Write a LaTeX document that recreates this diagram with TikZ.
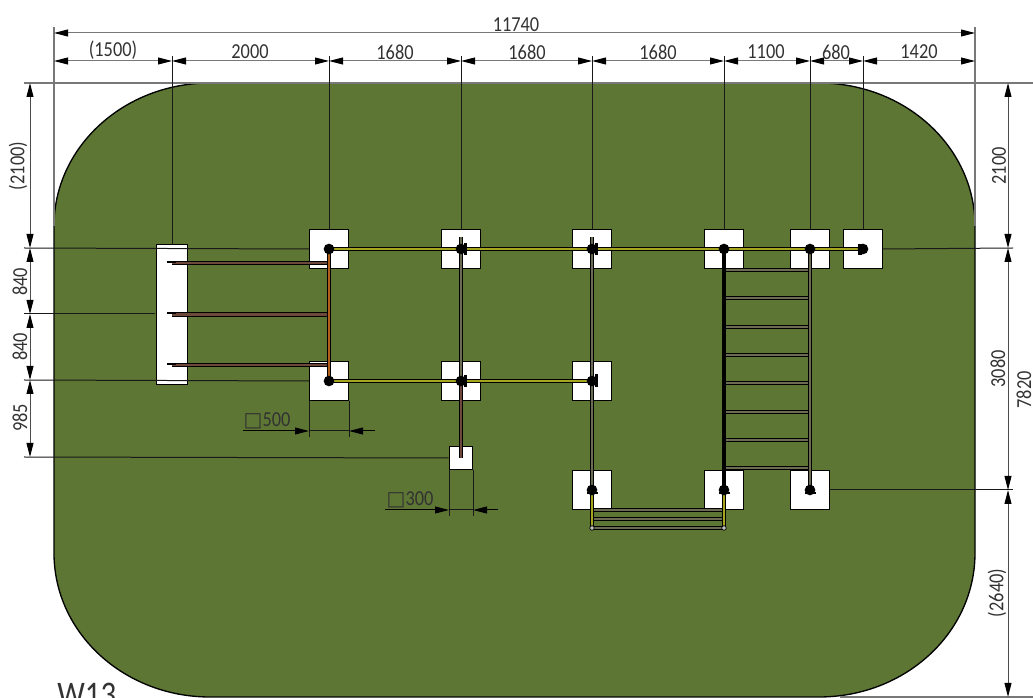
\documentclass[tikz,border=0pt]{standalone}
\usepackage{fontspec}
\setmainfont[FakeStretch=0.86]{Carlito}
\newfontfamily\symfont{DejaVu Sans}
\usetikzlibrary{arrows.meta}
\definecolor{lawn}{RGB}{94,118,52}
\definecolor{dimgrey}{RGB}{120,120,120}
\definecolor{labelgrey}{RGB}{50,50,50}
\definecolor{pipeyellow}{RGB}{165,165,30}
\definecolor{pipeorange}{RGB}{176,96,26}
\definecolor{pipebrown}{RGB}{110,72,58}
\definecolor{pipegrey}{RGB}{108,108,84}
\tikzset{
  x=0.75pt,y=-0.75pt,
  dimline/.style={draw=dimgrey,line width=0.75pt,{Triangle[length=10.5pt,width=5.2pt,color=black]}-{Triangle[length=10.5pt,width=5.2pt,color=black]}},
  vdimline/.style={dimline,draw=black!70},
  leaderA/.style={draw=black,line width=0.75pt,-{Triangle[length=10.5pt,width=5.2pt,color=black]}},
  extline/.style={draw=black!90,line width=0.75pt},
  extgrey/.style={draw=dimgrey,line width=0.9pt},
  dimlabel/.style={inner sep=0pt,text=labelgrey,font=\fontsize{16}{17}\selectfont},
  footing/.style={draw=black,fill=white,line width=1.1pt,inner sep=0pt,minimum size=29.2pt},
  smallfooting/.style={draw=black,fill=white,line width=1pt,inner sep=0pt,minimum size=17.5pt},
  beam/.style={draw=black,fill=white,line width=1.2pt,inner sep=0pt,minimum width=23pt,minimum height=105pt},
  joint/.style={circle,fill=black,inner sep=0pt,minimum size=8pt},
  endcap/.style={circle,draw=black,fill=lightgray,line width=0.5pt,inner sep=0pt,minimum size=3.4pt},
  pipe/.style={draw=black,line width=0.85pt,double distance=1.9pt},
  pipeY/.style={pipe,double=pipeyellow},
  pipeO/.style={pipe,double=pipeorange},
  pipeB/.style={pipe,double=pipebrown},
  pipeG/.style={pipe,double=pipegrey},
  pipeK/.style={draw=black,line width=2.6pt},
}
\begin{document}
\begin{tikzpicture}
\useasboundingbox (0,0) rectangle (1033,698);
% lawn
\filldraw[fill=lawn,draw=black,line width=1pt]
  (210,83) -- (819,83)
  .. controls (905,83) and (975,147) .. (975,226)
  -- (975,553)
  .. controls (975,633) and (905,697) .. (819,697)
  -- (210,697)
  .. controls (124,697) and (54,633) .. (54,553)
  -- (54,226)
  .. controls (54,147) and (124,83) .. (210,83) -- cycle;

% footings
\node[beam] (bm) at (172,314.5) {};
\node[footing] (s1) at (329,249) {};
\node[footing] (s2) at (461,249) {};
\node[footing] (s3) at (592,249) {};
\node[footing] (s4) at (724,249) {};
\node[footing] (s5) at (810,249) {};
\node[footing] (s6) at (863,249) {};
\node[footing] (s7) at (329,381) {};
\node[footing] (s8) at (461,381) {};
\node[footing] (s9) at (592,381) {};
\node[footing] (s10) at (592,490) {};
\node[footing] (s11) at (724,490) {};
\node[footing] (s12) at (810,490) {};
\node[smallfooting] (s13) at (461,458) {};

% coordinates of dimension ticks
\coordinate (a0) at (54,33); \coordinate (a1) at (975,33);
\coordinate (h0) at (54,61); \coordinate (h1) at (172,61); \coordinate (h2) at (329,61);
\coordinate (h3) at (461,61); \coordinate (h4) at (592,61); \coordinate (h5) at (724,61);
\coordinate (h6) at (810,61); \coordinate (h7) at (863,61); \coordinate (h8) at (975,61);
\coordinate (u1) at (172,56); \coordinate (u2) at (329,56); \coordinate (u3) at (461,56);
\coordinate (u4) at (592,56); \coordinate (u5) at (724,56); \coordinate (u6) at (810,56);
\coordinate (u7) at (863,56);
\coordinate (l0) at (30,83); \coordinate (l1) at (30,248); \coordinate (l2) at (30,314);
\coordinate (l3) at (30,380); \coordinate (l4) at (30,457);
\coordinate (r0) at (1008,83); \coordinate (r1) at (1008,248); \coordinate (r2) at (1008,490);
\coordinate (r3) at (1008,697);
\coordinate (le1) at (24,248); \coordinate (le2) at (24,314); \coordinate (le3) at (24,380);
\coordinate (le4) at (24,457); \coordinate (re1) at (1013,248); \coordinate (re2) at (1013,490);
\coordinate (te0) at (24,83); \coordinate (te1) at (1033,83);
\coordinate (be0) at (840,697); \coordinate (be1) at (1033,697);
\coordinate (k0a) at (54,27); \coordinate (k0b) at (54,226);
\coordinate (k1a) at (975,27); \coordinate (k1b) at (975,226);
\coordinate (d5a) at (243,431); \coordinate (d5b) at (309,431); \coordinate (d5c) at (349,431); \coordinate (d5d) at (375,431);
\coordinate (e5a) at (309,401); \coordinate (e5b) at (309,437); \coordinate (e5c) at (349,401); \coordinate (e5d) at (349,437);
\coordinate (d3a) at (385,510); \coordinate (d3b) at (449,510); \coordinate (d3c) at (473,510); \coordinate (d3d) at (498,510);
\coordinate (e3a) at (449,470); \coordinate (e3b) at (449,516); \coordinate (e3c) at (473,470); \coordinate (e3d) at (473,516);
\coordinate (lw) at (155,314);

% extension lines
\draw[extgrey] (k0a) -- (k0b);
\draw[extgrey] (k1a) -- (k1b);
\draw[extgrey] (te0) -- (te1);
\draw[extgrey] (be0) -- (be1);
\draw[extline] (u1) -- (bm.north);
\draw[extline] (u2) -- (s1.north);
\draw[extline] (u3) -- (s2.north);
\draw[extline] (u4) -- (s3.north);
\draw[extline] (u5) -- (s4.north);
\draw[extline] (u6) -- (s5.north);
\draw[extline] (u7) -- (s6.north);
\draw[extline] (le1) -- (s1.west);
\draw[extline] (le2) -- (lw);
\draw[extline] (le3) -- (s7.west);
\draw[extline] (le4) -- (s13.west);
\draw[extline] (s6.east) -- (re1);
\draw[extline] (s12.east) -- (re2);
\draw[extline] (e5a) -- (e5b);
\draw[extline] (e5c) -- (e5d);
\draw[extline] (e3a) -- (e3b);
\draw[extline] (e3c) -- (e3d);

% dimension lines
\draw[dimline] (a0) -- (a1);
\draw[dimline] (h0) -- (h1);
\draw[dimline] (h1) -- (h2);
\draw[dimline] (h2) -- (h3);
\draw[dimline] (h3) -- (h4);
\draw[dimline] (h4) -- (h5);
\draw[dimline] (h5) -- (h6);
\draw[dimline] (h6) -- (h7);
\draw[dimline] (h7) -- (h8);
\draw[vdimline] (l0) -- (l1);
\draw[vdimline] (l1) -- (l2);
\draw[vdimline] (l2) -- (l3);
\draw[vdimline] (l3) -- (l4);
\draw[vdimline] (r0) -- (r1);
\draw[vdimline] (r1) -- (r2);
\draw[vdimline] (r2) -- (r3);
\draw[leaderA] (d5a) -- (d5b);
\draw[leaderA] (d5d) -- (d5c);
\draw[extline] (d5b) -- (d5c);
\draw[leaderA] (d3a) -- (d3b);
\draw[leaderA] (d3d) -- (d3c);
\draw[extline] (d3b) -- (d3c);

% labels
\node[dimlabel] (t0) at (516,25) {11740};
\node[dimlabel] (t1) at (113,50) {(1500)};
\node[dimlabel] (t2) at (250,52) {2000};
\node[dimlabel] (t3) at (395,52) {1680};
\node[dimlabel] (t4) at (527,52) {1680};
\node[dimlabel] (t5) at (658,52) {1680};
\node[dimlabel] (t6) at (766,52) {1100};
\node[dimlabel] (t7) at (836,52) {680};
\node[dimlabel] (t8) at (919,52) {1420};
\node[dimlabel,rotate=90] (t9) at (18,166) {(2100)};
\node[dimlabel,rotate=90] (t10) at (20,282) {840};
\node[dimlabel,rotate=90] (t11) at (20,347) {840};
\node[dimlabel,rotate=90] (t12) at (20,418) {985};
\node[dimlabel,rotate=90] (t13) at (999,166) {2100};
\node[dimlabel,rotate=90] (t14) at (998,369) {3080};
\node[dimlabel,rotate=90] (t15) at (1024,390) {7820};
\node[dimlabel,rotate=90] (t16) at (997,593) {(2640)};
\node[dimlabel] (t17) at (267,421) {{\symfont\fontsize{15}{16}\selectfont □}500};
\node[dimlabel] (t18) at (410,500) {{\symfont\fontsize{15}{16}\selectfont □}300};
\node[inner sep=0pt,anchor=base west,text=black!80,font=\fontsize{27}{28}\selectfont] (t19) at (57,706) {W13};

% pipe structure: anchors
\coordinate (r1a) at (172,263); \coordinate (r1b) at (329,263);
\coordinate (r2a) at (172,314.5); \coordinate (r2b) at (329,314.5);
\coordinate (r3a) at (172,365); \coordinate (r3b) at (329,365);
\coordinate (r1t) at (167,262); \coordinate (r1u) at (176,262);
\coordinate (r2t) at (167,313); \coordinate (r2u) at (176,313);
\coordinate (r3t) at (167,364); \coordinate (r3u) at (176,364);
\coordinate (v2t) at (461,237); \coordinate (v3t) at (592,237);
\coordinate (w1a) at (724,270); \coordinate (w1b) at (810,270);
\coordinate (w2a) at (724,298); \coordinate (w2b) at (810,298);
\coordinate (w3a) at (724,327); \coordinate (w3b) at (810,327);
\coordinate (w4a) at (724,355); \coordinate (w4b) at (810,355);
\coordinate (w5a) at (724,383); \coordinate (w5b) at (810,383);
\coordinate (w6a) at (724,412); \coordinate (w6b) at (810,412);
\coordinate (w7a) at (724,440); \coordinate (w7b) at (810,440);
\coordinate (w8a) at (724,468); \coordinate (w8b) at (810,468);
\coordinate (b1a) at (592,510); \coordinate (b1b) at (724,510);
\coordinate (b2a) at (592,519); \coordinate (b2b) at (724,519);
\coordinate (b3a) at (592,528); \coordinate (b3b) at (724,528);

% horizontal bars at the beam
\draw[pipeB] (r1a) -- (r1b);
\draw[pipeB] (r2a) -- (r2b);
\draw[pipeB] (r3a) -- (r3b);
\draw[black,line width=1pt] (r1t) -- (r1u);
\draw[black,line width=1pt] (r2t) -- (r2u);
\draw[black,line width=1pt] (r3t) -- (r3u);

% ladder rungs
\draw[pipeG] (w1a) -- (w1b);
\draw[pipeG] (w2a) -- (w2b);
\draw[pipeG] (w3a) -- (w3b);
\draw[pipeG] (w4a) -- (w4b);
\draw[pipeG] (w5a) -- (w5b);
\draw[pipeG] (w6a) -- (w6b);
\draw[pipeG] (w7a) -- (w7b);
\draw[pipeG] (w8a) -- (w8b);

% bottom rungs
\draw[pipeG] (b1a) -- (b1b);
\draw[pipeG] (b2a) -- (b2b);
\draw[pipeG] (b3a) -- (b3b);

% vertical pipes
\draw[pipeG] (v2t) -- (s8.center);
\draw[pipeB] (s8.center) -- (s13.center);
\draw[pipeG] (v3t) -- (s10.center);
\draw[pipeK] (s4.center) -- (s11.center);
\draw[pipeG] (s5.center) -- (s12.center);
\draw[pipeY] (s10.center) -- (b3a);
\draw[pipeY] (s11.center) -- (b3b);
\draw[pipeO] (s1.center) -- (s7.center);

% horizontal yellow pipes
\draw[pipeY] (s1.center) -- (s6.center);
\draw[pipeY] (s7.center) -- (s9.center);

% joints
\node[joint] (j1) at (s1.center) {};
\node[joint] (j2) at (s2.center) {};
\node[joint] (j3) at (s3.center) {};
\node[joint] (j4) at (s4.center) {};
\node[joint] (j5) at (s5.center) {};
\node[joint] (j6) at (s6.center) {};
\node[joint] (j7) at (s7.center) {};
\node[joint] (j8) at (s8.center) {};
\node[joint] (j9) at (s9.center) {};
\node[joint] (j10) at (s10.center) {};
\node[joint] (j11) at (s11.center) {};
\node[joint] (j12) at (s12.center) {};
% collars on joints
\fill[black] (595,243) rectangle (598,255);
\fill[black] (464,243) rectangle (467,255);
\fill[black] (464,375) rectangle (467,387);
\fill[black] (595,374) rectangle (598,387);
\fill[black] (858,244) rectangle (862,255);
\fill[black] (587,494) rectangle (598,492);
\fill[black] (719,494) rectangle (730,492);
\fill[black] (805,494) rectangle (816,492);
\node[endcap] (c1) at (b3a) {};
\node[endcap] (c2) at (b3b) {};
\end{tikzpicture}
\end{document}
